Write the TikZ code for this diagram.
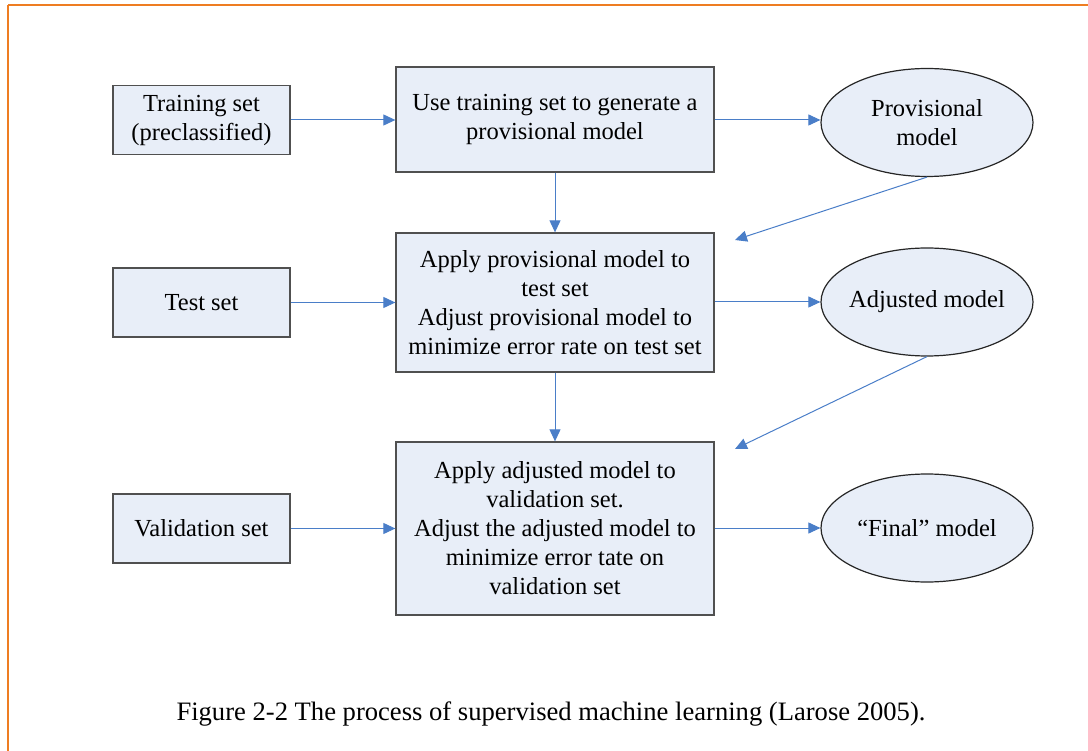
\documentclass[tikz,border=0pt]{standalone}
\usepackage{fontspec}
\setmainfont{Liberation Serif}
\usetikzlibrary{shapes.geometric,arrows.meta}
\definecolor{boxfill}{HTML}{E8EEF8}
\definecolor{boxline}{HTML}{505050}
\definecolor{flow}{HTML}{4A7EC8}
\definecolor{frameorange}{HTML}{EE7D22}
\tikzset{
  every node/.style={font=\fontsize{24.5}{29}\selectfont, align=center, inner sep=0pt},
  inbox/.style={draw=boxline, line width=1.3pt, fill=boxfill, minimum width=177pt, minimum height=69pt},
  procbox/.style={draw=boxline, line width=1.3pt, fill=boxfill, minimum width=318pt},
  result/.style={ellipse, draw=black!85, line width=1.2pt, fill=boxfill, inner xsep=-20pt, minimum width=212pt, minimum height=108pt},
  flowarrow/.style={draw=flow, line width=1pt, -{Triangle[length=12pt,width=11pt]}}
}
\begin{document}
\begin{tikzpicture}[x=1pt,y=-1pt]
\useasboundingbox (0,0) rectangle (1088,751);
% frame of the figure
\draw[frameorange, line width=2.5pt] (8,5) -- (1100,5);
\draw[frameorange, line width=2.5pt] (8,5) -- (8,760);

% left column: data sets
\node[inbox] (train) at (201.5,120) {Training set\\(preclassified)};
\node[inbox] (test) at (201.5,302.5) {Test set};
\node[inbox] (valid) at (201.5,528.5) {Validation set};

% middle column: processing steps
\node[procbox, minimum height=105pt] (gen) at (555,119.5) {Use training set to generate a\\provisional model};
\node[procbox, minimum height=139pt] (applyp) at (555,302.5) {Apply provisional model to\\test set\\Adjust provisional model to\\minimize error rate on test set};
\node[procbox, minimum height=173pt] (applya) at (555,528.5) {Apply adjusted model to\\validation set.\\Adjust the adjusted model to\\minimize error tate on\\validation set};

% right column: models
\node[result] (prov) at (927,122.5) {Provisional\\model};
\node[result] (adj) at (927,302) {Adjusted model};
\node[result] (final) at (927,528) {“Final” model};

% loose ends of the feedback arrows
\coordinate (fb1) at (735,240);
\coordinate (fb2) at (735,449);

% connectors
\draw[flowarrow] (train.east) -- (gen.west |- train.east);
\draw[flowarrow] (gen.east |- train.east) -- (prov.west |- train.east);
\draw[flowarrow] (gen.south) -- (applyp.north);
\draw[flowarrow] (prov.south) -- (fb1);
\draw[flowarrow] (test.east) -- (applyp.west |- test.east);
\draw[flowarrow] (applyp.east |- adj.west) -- (adj.west);
\draw[flowarrow] (applyp.south) -- (applya.north);
\draw[flowarrow] (adj.south) -- (fb2);
\draw[flowarrow] (valid.east) -- (applya.west |- valid.east);
\draw[flowarrow] (applya.east |- final.west) -- (final.west);

% caption
\node[anchor=base, font=\fontsize{26.6}{30}\selectfont] (caption) at (551,720) {Figure 2-2 The process of supervised machine learning (Larose 2005).};
\end{tikzpicture}
\end{document}
